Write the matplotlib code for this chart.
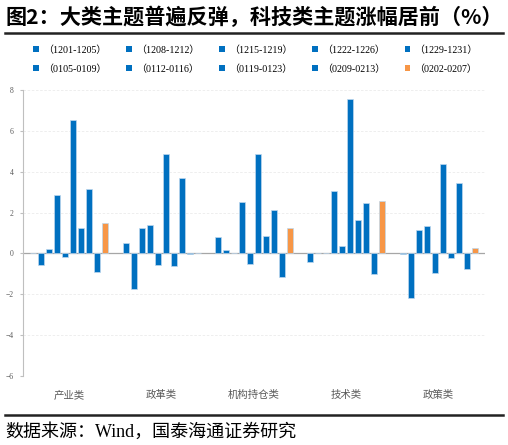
import numpy as np
import matplotlib.pyplot as plt
from matplotlib.patches import Patch
from matplotlib.lines import Line2D

plt.rcParams['font.family'] = ['Liberation Serif', 'Noto Sans CJK SC', 'DejaVu Sans']

# data
categories = ['产业类', '政革类', '机构持仓类', '技术类', '政策类']
periods = ['（1201-1205）', '（1208-1212）', '（1215-1219）', '（1222-1226）', '（1229-1231）',
           '（0105-0109）', '（0112-0116）', '（0119-0123）', '（0209-0213）', '（0202-0207）']
# one row per category, one column per period
values = [
    [0.00, -0.57, 0.20, 2.84, -0.16, 6.52, 1.24, 3.17, -0.92, 1.47],
    [0.52, -1.72, 1.22, 1.40, -0.56, 4.87, -0.60, 3.71, -0.05, 0.02],
    [0.80, 0.16, 0.00, 2.52, -0.50, 4.84, 0.87, 2.14, -1.14, 1.24],
    [-0.42, 0.02, 0.01, 3.04, 0.34, 7.57, 1.63, 2.47, -1.02, 2.57],
    [-0.02, -2.18, 1.14, 1.36, -0.97, 4.35, -0.23, 3.45, -0.75, 0.26],
]
colors = ['#0070C0'] * 9 + ['#F79646']

vals = np.array(values)
n_cat, n_per = vals.shape
group_step = 11.54
bar_w = 0.75

fig = plt.figure(figsize=(5.08, 4.45), dpi=100)
ax = fig.add_axes([0.046, 0.155, 0.909, 0.643])

for j in range(n_per):
    x = np.arange(n_cat) * group_step + j
    ax.bar(x, vals[:, j], width=bar_w, color=colors[j],
           edgecolor='#BDD7EE', linewidth=0.5, label=periods[j], zorder=3)

ax.axhline(0, color='#A6A6A6', lw=0.9, zorder=2)
ax.set_ylim(-6, 8)
ax.set_yticks(np.arange(-6, 9, 2))
ax.set_xlim(-1.25, (n_cat - 1) * group_step + n_per - 1 + 1.3)
ax.set_xticks(np.arange(n_cat) * group_step + (n_per - 1) / 2)
ax.set_xticklabels(categories, fontsize=7.5, color='#595959', family=['Noto Sans CJK SC'])
ax.tick_params(axis='x', length=0, pad=10)
ax.tick_params(axis='y', labelsize=5.5, labelcolor='#595959', length=2, color='#BFBFBF', pad=5)
for y in [-6, -4, -2, 2, 4, 6, 8]:
    ax.axhline(y, color='#EBEBEB', lw=0.6, ls=(0, (3, 2)), zorder=1)
for s in ['top', 'right', 'bottom']:
    ax.spines[s].set_visible(False)
ax.spines['left'].set_color('#BFBFBF')

# legend (row-major order in 2 rows x 5 cols)
handles = [Patch(facecolor=c) for c in colors]
order = [0, 5, 1, 6, 2, 7, 3, 8, 4, 9]
fig.legend([handles[i] for i in order], [periods[i] for i in order], ncol=5,
           loc='center', bbox_to_anchor=(0.503, 0.866), frameon=False,
           fontsize=7.2, handlelength=0.55, handleheight=0.55, handletextpad=0.4,
           columnspacing=2.0, labelspacing=0.95)

fig.text(0.01, 0.962, '图2：大类主题普遍反弹，科技类主题涨幅居前（%）', fontsize=15.2,
         fontweight='bold', va='center', ha='left', family=['Noto Sans CJK SC'])
fig.add_artist(Line2D([0.01, 0.99], [0.925, 0.925], color='#222222', lw=1.8))
fig.add_artist(Line2D([0.01, 0.99], [0.068, 0.068], color='#222222', lw=1.8))
fig.text(0.01, 0.03, '数据来源：Wind，国泰海通证券研究', fontsize=13, va='center', ha='left')

fig.savefig('out.png', dpi=100)
